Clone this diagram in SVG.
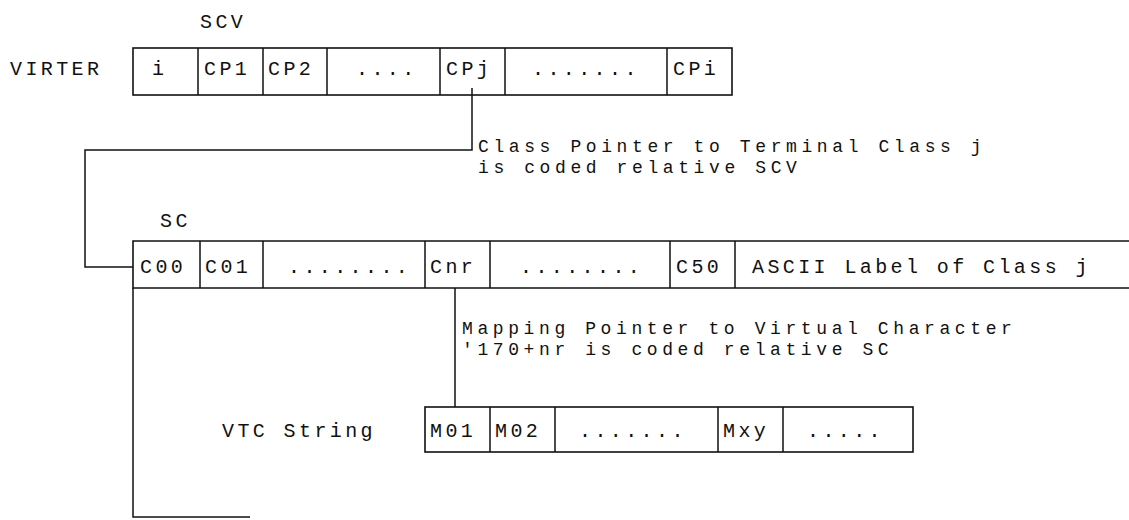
<svg xmlns="http://www.w3.org/2000/svg" width="1129" height="520" viewBox="0 0 1129 520">
<style>
text{font-family:"Liberation Mono","DejaVu Sans Mono",monospace;font-size:20px;letter-spacing:3.4px;fill:#111}
text.note{font-size:18px;letter-spacing:4.6px}
.box{fill:none;stroke:#111;stroke-width:1.6}
.div{stroke:#111;stroke-width:1.5}
.conn{fill:none;stroke:#111;stroke-width:1.5}
</style>
<rect width="1129" height="520" fill="#fff"/>
<g id="virter">
<text x="200" y="28">SCV</text>
<text x="10" y="75">VIRTER</text>
<rect class="box" x="133" y="48" width="599" height="47"/>
<path class="div" d="M198 48V95M263 48V95M327 48V95M440 48V95M505 48V95M667 48V95"/>
<text x="152" y="75">i</text>
<text x="204" y="75">CP1</text>
<text x="268" y="75">CP2</text>
<text x="356" y="75">....</text>
<text x="446" y="75">CPj</text>
<text x="532" y="75">.......</text>
<text x="673" y="75">CPi</text>
</g>
<g id="sc">
<text x="160" y="227">SC</text>
<path class="box" d="M1129 241H133V288H1129"/>
<path class="div" d="M200 241V288M263 241V288M425 241V288M490 241V288M670 241V288M735 241V288"/>
<text x="140" y="273">C00</text>
<text x="205" y="273">C01</text>
<text x="288" y="273">........</text>
<text x="430" y="273">Cnr</text>
<text x="520" y="273">........</text>
<text x="676" y="273">C50</text>
<text x="752" y="273">ASCII Label of Class j</text>
</g>
<g id="vtc">
<text x="222" y="437">VTC String</text>
<rect class="box" x="425" y="407" width="488" height="45"/>
<path class="div" d="M490 407V452M555 407V452M718 407V452M783 407V452"/>
<text x="430" y="437">M01</text>
<text x="495" y="437">M02</text>
<text x="579" y="437">.......</text>
<text x="723" y="437">Mxy</text>
<text x="807" y="437">.....</text>
</g>
<g id="note-class">
<text class="note" x="478" y="152">Class Pointer to Terminal Class j</text>
<text class="note" x="478" y="173">is coded relative SCV</text>
</g>
<g id="note-mapping">
<text class="note" x="462" y="334">Mapping Pointer to Virtual Character</text>
<text class="note" x="462" y="355">'170+nr is coded relative SC</text>
</g>
<g id="connectors">
<path class="conn" d="M472 88V150H85V267H133"/>
<path class="conn" d="M455 288V407"/>
<path class="conn" d="M133 288V517H250"/>
</g>
</svg>
